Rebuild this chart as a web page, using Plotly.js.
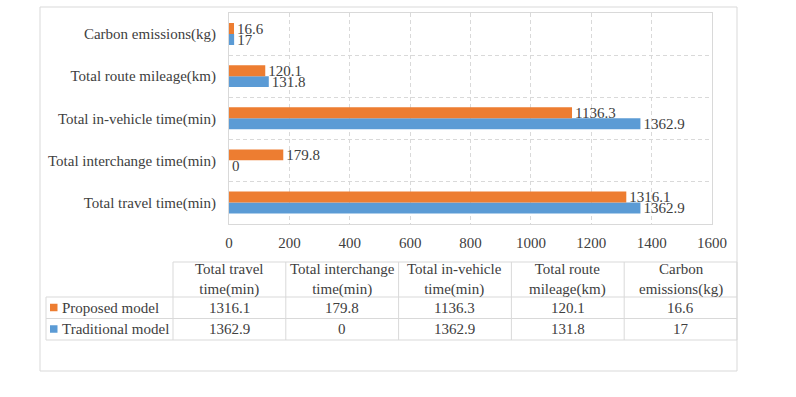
<!DOCTYPE html>
<html>
<head>
<meta charset="utf-8">
<script src="https://cdn.plot.ly/plotly-3.0.1.min.js"></script>
<style>
    html, body { margin: 0; padding: 0; background: #fff; }
    #chart { width: 796px; height: 397px; }
</style>
</head>
<body>
<div id="chart"></div>
<script>
// categories, bottom to top on the chart, left to right in the table
const categories = [
    'Total travel time(min)',
    'Total interchange time(min)',
    'Total in-vehicle time(min)',
    'Total route mileage(km)',
    'Carbon emissions(kg)'
];
const headerLabels = [
    'Total travel<br>time(min)',
    'Total interchange<br>time(min)',
    'Total in-vehicle<br>time(min)',
    'Total route<br>mileage(km)',
    'Carbon<br>emissions(kg)'
];
const seriesNames = ['Proposed model', 'Traditional model'];
const proposedValues = [1316.1, 179.8, 1136.3, 120.1, 16.6];
const traditionalValues = [1362.9, 0, 1362.9, 131.8, 17];
const xTicks = [0, 200, 400, 600, 800, 1000, 1200, 1400, 1600];

const orange = '#ED7D31';
const blue = '#5B9BD5';
const textColor = '#404040';
const gridColor = '#d9d9d9';
const fontFamily = '"Liberation Serif", "Times New Roman", serif';
const fontSize = 15;

const W = 796, H = 397;
// paper helpers (pixels -> paper fraction)
const px = v => v / W;
const py = v => 1 - v / H;

function barTrace(name, values, color) {
    return {
        type: 'bar',
        orientation: 'h',
        name: name,
        y: categories,
        x: values,
        marker: {color: color},
        text: values.map(v => String(v)),
        textposition: 'outside',
        constraintext: 'none',
        cliponaxis: false,
        textfont: {family: fontFamily, size: fontSize, color: textColor},
        hoverinfo: 'none'
    };
}

// traditional first so it sits below the proposed bar in each group
let traditional = barTrace(seriesNames[1], traditionalValues, blue);
let proposed = barTrace(seriesNames[0], proposedValues, orange);

// ---- data table under the chart, drawn with lines + annotations ----
const colEdges = [46, 173];
for (let i = 1; i <= categories.length; i++) colEdges.push(173 + i * 112.8);
const rowEdges = [262, 297, 318.5, 340];

let shapes = [];
let annotations = [];

function hline(y, x0, x1) {
    shapes.push({type: 'line', xref: 'paper', yref: 'paper',
        x0: px(x0), x1: px(x1), y0: py(y), y1: py(y),
        line: {color: gridColor, width: 1}});
}
function vline(x, y0, y1) {
    shapes.push({type: 'line', xref: 'paper', yref: 'paper',
        x0: px(x), x1: px(x), y0: py(y0), y1: py(y1),
        line: {color: gridColor, width: 1}});
}
function label(text, x, y, anchor) {
    annotations.push({text: text, xref: 'paper', yref: 'paper',
        x: px(x), y: py(y), xanchor: anchor || 'center', yanchor: 'middle',
        showarrow: false, align: 'center',
        font: {family: fontFamily, size: fontSize, color: textColor}});
}

// outer frame
shapes.push({type: 'rect', xref: 'paper', yref: 'paper',
    x0: px(40), x1: px(737), y0: py(371), y1: py(7),
    line: {color: gridColor, width: 1}, layer: 'below'});

hline(rowEdges[0], colEdges[1], colEdges[colEdges.length - 1]);
for (let r = 1; r < rowEdges.length; r++) hline(rowEdges[r], colEdges[0], colEdges[colEdges.length - 1]);
vline(colEdges[0], rowEdges[1], rowEdges[3]);
for (let c = 1; c < colEdges.length; c++) vline(colEdges[c], rowEdges[0], rowEdges[3]);

let rows = [proposedValues, traditionalValues];
let rowColors = [orange, blue];
for (let c = 0; c < categories.length; c++) {
    let cx = (colEdges[c + 1] + colEdges[c + 2]) / 2;
    label(headerLabels[c], cx, (rowEdges[0] + rowEdges[1]) / 2 - 0.5);
    for (let r = 0; r < rows.length; r++) {
        label(String(rows[r][c]), cx, (rowEdges[r + 1] + rowEdges[r + 2]) / 2);
    }
}
for (let r = 0; r < rows.length; r++) {
    let cy = (rowEdges[r + 1] + rowEdges[r + 2]) / 2;
    shapes.push({type: 'rect', xref: 'paper', yref: 'paper',
        x0: px(50), x1: px(57.5), y0: py(cy + 3.5), y1: py(cy - 4),
        fillcolor: rowColors[r], line: {width: 0}});
    label(seriesNames[r], 60, cy, 'left');
}

let layout = {
    width: W,
    height: H,
    margin: {l: 0, r: 0, t: 0, b: 0},
    paper_bgcolor: 'white',
    plot_bgcolor: 'white',
    showlegend: false,
    barmode: 'group',
    bargap: 0.48,
    bargroupgap: 0,
    font: {family: fontFamily, size: fontSize, color: textColor},
    xaxis: {
        domain: [px(229), px(712)],
        range: [0, 1600],
        tickvals: xTicks,
        ticktext: xTicks.map(String),
        showgrid: true,
        gridcolor: gridColor,
        griddash: '4px,3px',
        zeroline: false,
        showline: true,
        linecolor: gridColor,
        mirror: true,
        ticks: '',
        ticklabelstandoff: 5,
        automargin: false,
        tickfont: {family: fontFamily, size: fontSize, color: textColor}
    },
    yaxis: {
        domain: [py(223.5), py(13)],
        type: 'category',
        tickson: 'boundaries',
        showgrid: true,
        gridcolor: gridColor,
        griddash: '4px,3px',
        zeroline: false,
        showline: true,
        linecolor: gridColor,
        mirror: true,
        ticks: '',
        ticklabelstandoff: 9,
        automargin: false,
        tickfont: {family: fontFamily, size: fontSize, color: textColor}
    },
    shapes: shapes,
    annotations: annotations
};

Plotly.newPlot('chart', [traditional, proposed], layout, {displayModeBar: false, staticPlot: true});
</script>
</body>
</html>
